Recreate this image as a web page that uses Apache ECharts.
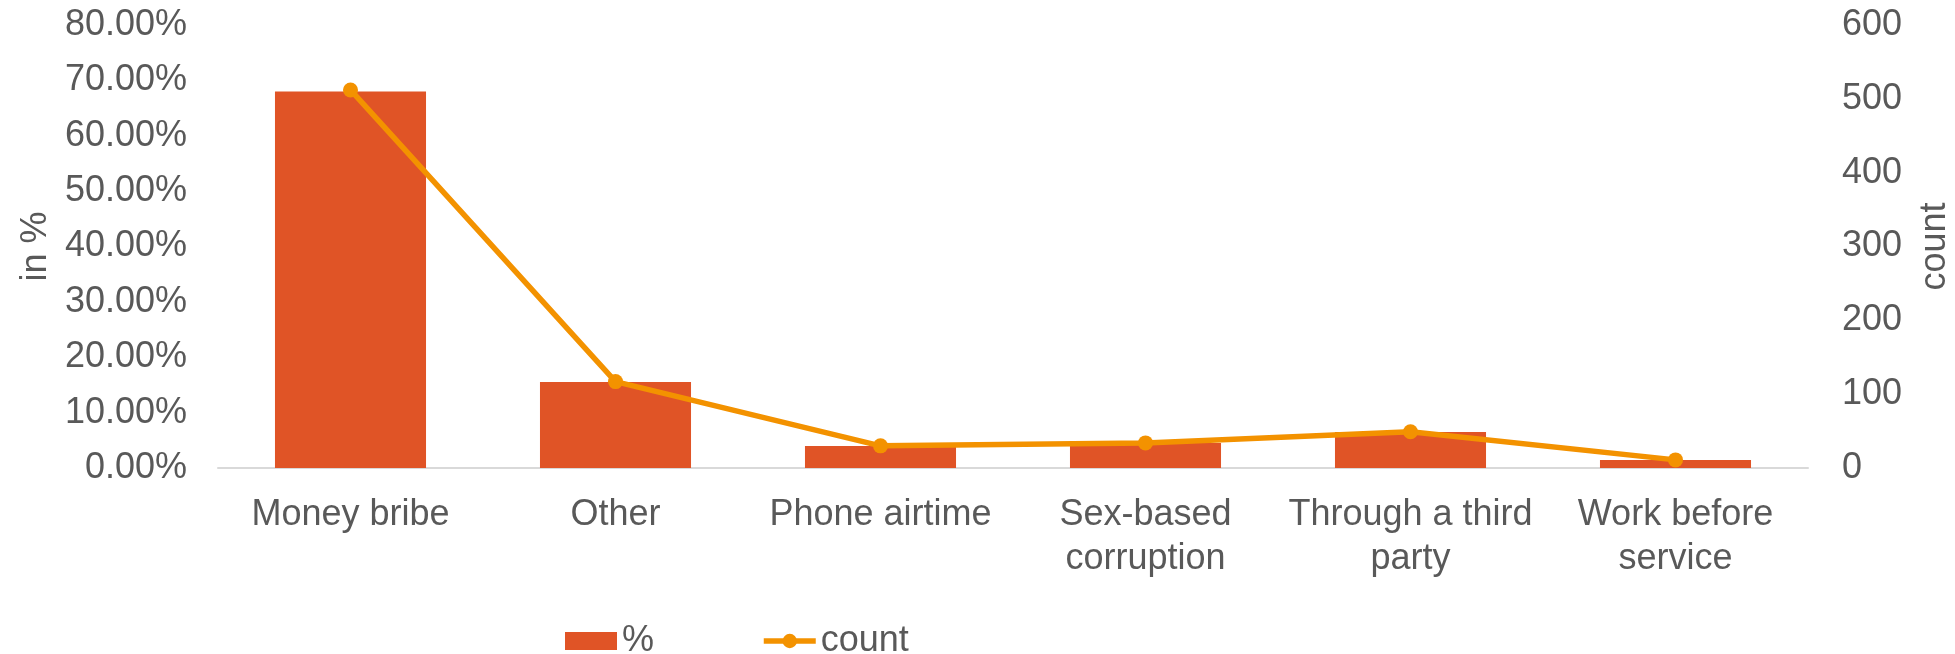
<!DOCTYPE html>
<html>
<head>
<meta charset="utf-8">
<script src="https://cdn.jsdelivr.net/npm/echarts@6/dist/echarts.min.js"></script>
<style>
  html, body { margin: 0; padding: 0; background: #ffffff; }
  #chart { width: 1955px; height: 654px; }
</style>
</head>
<body>
<div id="chart"></div>
<script>
// Forms of corruption: share of responses (bars) and number of responses (line)
const categories = [
  'Money bribe',
  'Other',
  'Phone airtime',
  'Sex-based\ncorruption',
  'Through a third\nparty',
  'Work before\nservice'
];
const percentValues = [67.99, 15.54, 3.98, 4.52, 6.51, 1.46];
const countValues = [512, 117, 30, 34, 49, 11];

const textColor = '#595959';
const fontFamily = '"Liberation Sans", Arial, sans-serif';
const fontSize = 36;
const barColor = '#E05426';
const lineColor = '#F39200';

const chart = echarts.init(document.getElementById('chart'), null, { renderer: 'canvas' });

chart.setOption({
  animation: false,
  backgroundColor: '#ffffff',
  textStyle: { fontFamily: fontFamily, color: textColor },
  grid: {
    left: 218, right: 147, top: 25, bottom: 186,
    containLabel: false,
    outerBoundsMode: 'none'
  },
  legend: {
    left: 560,
    top: 618,
    itemWidth: 52,
    itemHeight: 18,
    itemGap: 107,
    textStyle: { fontSize: fontSize, color: textColor, fontFamily: fontFamily },
    data: [
      { name: '%', icon: 'rect' },
      { name: 'count', lineStyle: { width: 5.5 } }
    ]
  },
  xAxis: {
    type: 'category',
    data: categories,
    axisLine: { show: true, lineStyle: { color: '#D9D9D9', width: 2 } },
    axisTick: { show: false },
    axisLabel: {
      interval: 0,
      margin: 25,
      fontSize: fontSize,
      lineHeight: 44,
      color: textColor,
      fontFamily: fontFamily
    },
    splitLine: { show: false }
  },
  yAxis: [
    {
      type: 'value',
      name: 'in %',
      nameLocation: 'middle',
      nameGap: 157,
      nameRotate: 90,
      nameTextStyle: { fontSize: fontSize, color: textColor, fontFamily: fontFamily },
      min: 0,
      max: 80,
      interval: 10,
      axisLine: { show: false },
      axisTick: { show: false },
      splitLine: { show: false },
      axisLabel: {
        margin: 31,
        fontSize: fontSize,
        color: textColor,
        fontFamily: fontFamily,
        formatter: v => v.toFixed(2) + '%'
      }
    },
    {
      type: 'value',
      name: 'count',
      nameLocation: 'middle',
      nameGap: 109,
      nameRotate: 90,
      nameTextStyle: { fontSize: fontSize, color: textColor, fontFamily: fontFamily },
      min: 0,
      max: 600,
      interval: 100,
      axisLine: { show: false },
      axisTick: { show: false },
      splitLine: { show: false },
      axisLabel: {
        margin: 34,
        fontSize: fontSize,
        color: textColor,
        fontFamily: fontFamily
      }
    }
  ],
  series: [
    {
      name: '%',
      type: 'bar',
      yAxisIndex: 0,
      data: percentValues,
      barCategoryGap: '43%',
      itemStyle: { color: barColor }
    },
    {
      name: 'count',
      type: 'line',
      yAxisIndex: 1,
      data: countValues,
      symbol: 'circle',
      symbolSize: 15,
      lineStyle: { color: lineColor, width: 5.5 },
      itemStyle: { color: lineColor }
    }
  ]
});
</script>
</body>
</html>
